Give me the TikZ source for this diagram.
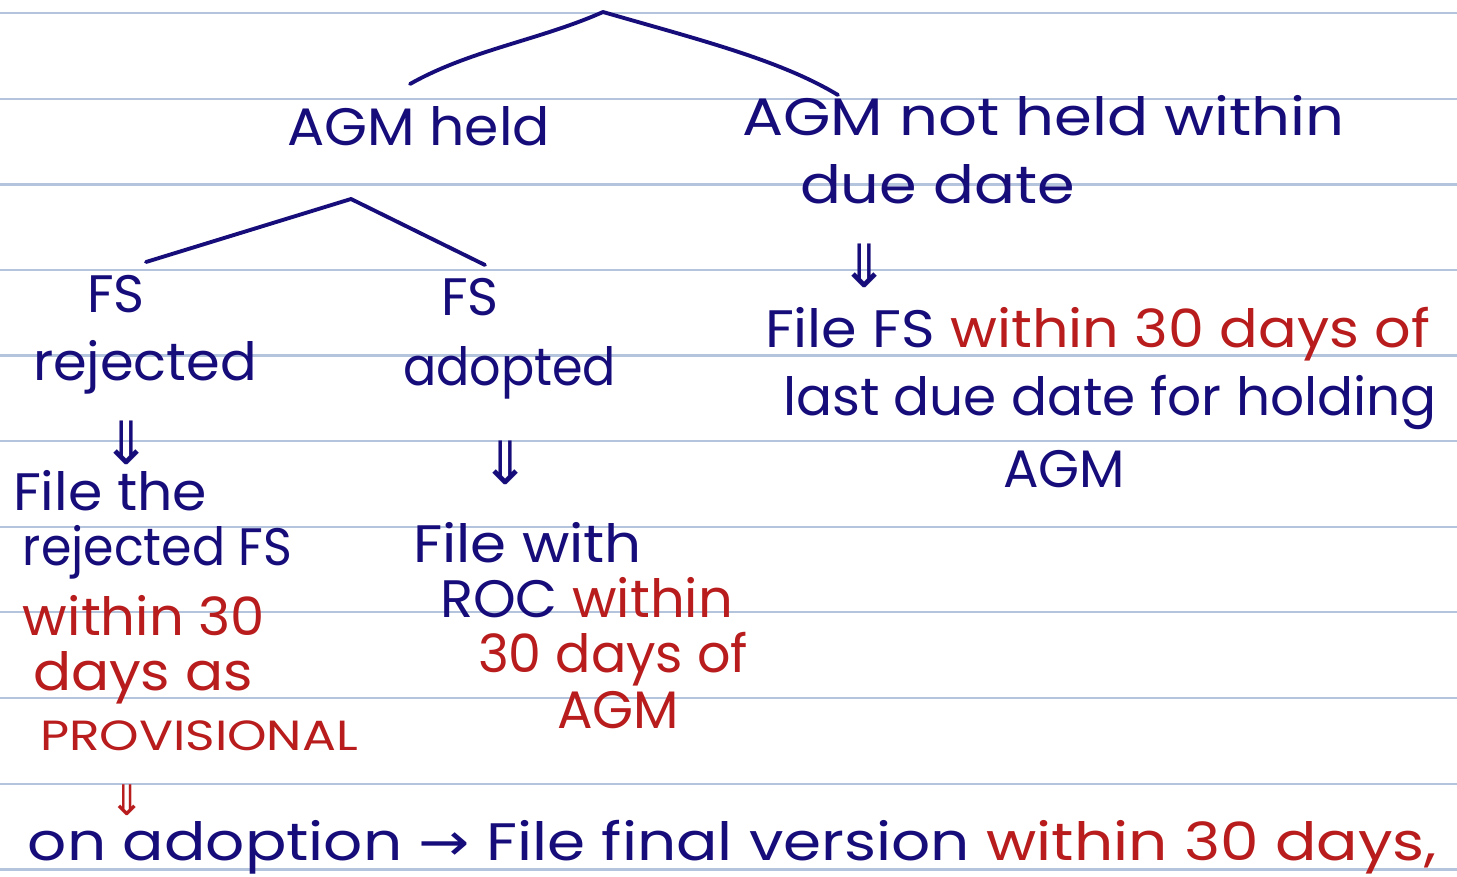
\documentclass[tikz,border=0pt]{standalone}
\usepackage{fontspec}
\usepackage{graphicx}
\setmainfont{Poppins}
\newfontfamily\symfont{DejaVu Sans}
\definecolor{ink}{RGB}{22,12,122}
\definecolor{redink}{RGB}{184,28,28}
\definecolor{rule}{RGB}{180,196,220}
\newcommand\fw[2]{\resizebox{#1}{\height}{#2}}
\begin{document}
\begin{tikzpicture}[x=0.02cm,y=-0.02cm,
  hw/.style={anchor=base west,inner sep=0pt,outer sep=0pt,text=ink,font=\fontsize{30}{36}\selectfont},
  hwr/.style={hw,text=redink},
  dn/.style={anchor=center,inner sep=0pt,text=ink,font=\symfont\fontsize{34}{36}\selectfont},
  branch/.style={draw=ink,line width=2.2pt,line cap=round,line join=round}]
\useasboundingbox[fill=white] (0,0) rectangle (1457,876);
% ruled lines
\foreach \y in {13,99,184.5,270,355.5,441,527,612,698,784,869.5}
  \draw[rule,line width=1.4pt] (0,\y) -- (1457,\y);
% top tree
\coordinate (t0) at (603,12);
\coordinate (tl) at (410,84);
\coordinate (tr) at (838,95);
\draw[branch] (tl) .. controls (470,50) and (540,40) .. (t0);
\draw[branch] (t0) .. controls (700,40) and (780,60) .. (tr);
\node[hw] (agmheld) at (287,145) {\fw{5.26cm}{AGM held}};
\node[hw] (notheld) at (742,135) {\fw{12.06cm}{AGM not held within}};
\node[hw] (duedate) at (800,203) {\fw{5.5cm}{due date}};
\node[dn] (d1) at (865,266) {⇓};
\node[hw] (filefs) at (765,347) {\fw{13.3cm}{File FS \textcolor{redink}{within 30 days of}}};
\node[hw] (lastdue) at (783,415) {\fw{13.08cm}{last due date for holding}};
\node[hw] (agm1) at (1003,487) {AGM};
% second tree
\coordinate (s0) at (351,199);
\coordinate (sl) at (146,262);
\coordinate (sr) at (485,265);
\draw[branch] (sl) -- (s0) -- (sr);
\node[hw] (fs1) at (87,312) {FS};
\node[hw] (rejected) at (33,380) {\fw{4.48cm}{rejected}};
\node[hw] (fs2) at (441,315) {FS};
\node[hw] (adopted) at (403,385) {\fw{4.26cm}{adopted}};
\node[dn] (d2) at (127,443) {⇓};
\node[hw] (filethe) at (13,510) {\fw{3.88cm}{File the}};
\node[hw] (rejfs) at (23,565) {\fw{5.38cm}{rejected FS}};
\node[hwr] (within1) at (23,635) {\fw{4.84cm}{within 30}};
\node[hwr] (daysas) at (33,690) {\fw{4.4cm}{days as}};
\node[hwr,font=\fontsize{24}{28}\selectfont] (prov) at (40,750) {\fw{6.36cm}{PROVISIONAL}};
\node[dn] (d3) at (506,463) {⇓};
\node[hw] (filewith) at (413,562) {\fw{4.58cm}{File with}};
\node[hw] (roc) at (440,617) {\fw{5.86cm}{ROC \textcolor{redink}{within}}};
\node[hwr] (days2) at (478,672) {\fw{5.4cm}{30 days of}};
\node[hwr] (agm2) at (557,728) {AGM};
\node[dn,text=redink,font=\symfont\fontsize{24}{26}\selectfont] (d4) at (127,800) {⇓};
\node[hw] (bottom) at (28,860) {\fw{28.18cm}{on adoption {\symfont→} File final version \textcolor{redink}{within 30 days,}}};
\end{tikzpicture}
\end{document}
